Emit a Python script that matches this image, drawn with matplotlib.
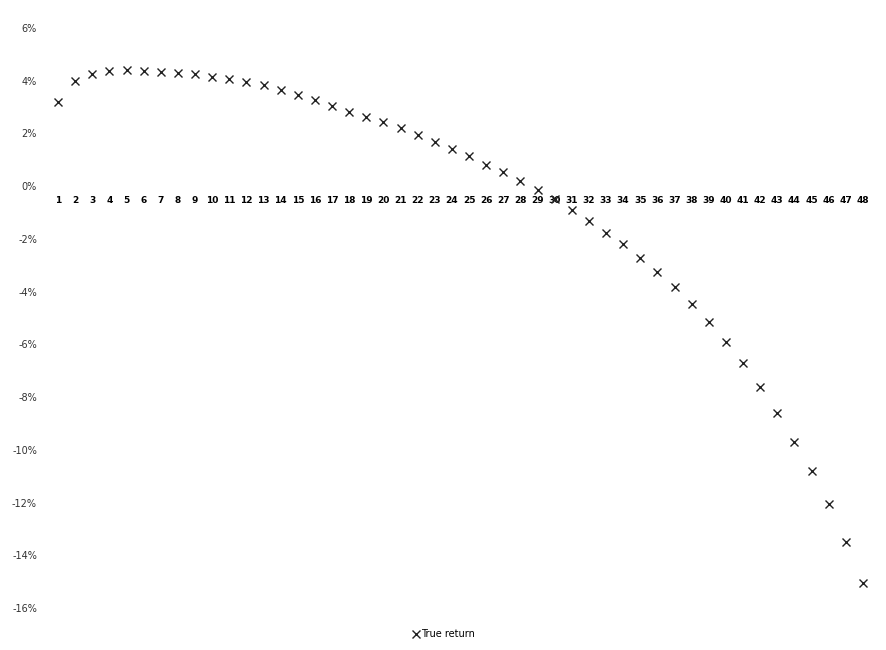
import matplotlib
matplotlib.use("Agg")
import matplotlib.pyplot as plt
import numpy as np

# period numbers on the category axis
periods = list(range(1, 49))

# true return in percent
true_return = [3.20, 4.00, 4.24, 4.38, 4.39, 4.38, 4.35, 4.31, 4.24, 4.16,
               4.07, 3.94, 3.84, 3.65, 3.45, 3.28, 3.05, 2.81, 2.63, 2.43,
               2.19, 1.93, 1.69, 1.41, 1.13, 0.81, 0.52, 0.19, -0.14, -0.48,
               -0.92, -1.32, -1.77, -2.21, -2.72, -3.26, -3.83, -4.47, -5.15, -5.90,
               -6.70, -7.62, -8.62, -9.69, -10.80, -12.07, -13.50, -15.06]

y_ticks = [6, 4, 2, 0, -2, -4, -6, -8, -10, -12, -14, -16]
y_tick_labels = ["%d%%" % v for v in y_ticks]

fig = plt.figure(figsize=(8.87, 6.5), dpi=100)
ax = fig.add_axes([0.0558, 0.0646, 0.9267, 0.8923])

ax.plot(periods, true_return, linestyle="none", marker="x", markersize=6,
        markeredgewidth=1.0, color="#222222", label="True return")

ax.set_xlim(0.5, 48.5)
ax.set_ylim(-16, 6)

ax.set_yticks(y_ticks)
ax.set_yticklabels(y_tick_labels, fontsize=7, color="#333333")
ax.tick_params(axis="y", length=0, pad=9)

# category labels sit on the zero line
ax.spines["bottom"].set_position(("data", 0))
ax.set_xticks(periods)
ax.set_xticklabels([str(p) for p in periods], fontsize=6.5, fontweight="bold")
ax.tick_params(axis="x", length=0, pad=7)

for s in ["top", "right", "left", "bottom"]:
    ax.spines[s].set_visible(False)

leg = fig.legend(loc="lower center", bbox_to_anchor=(0.5, 0.0), frameon=False,
                 fontsize=7, handlelength=0.8, handletextpad=0.2, borderpad=0.6)

fig.savefig("out.png", dpi=100)
